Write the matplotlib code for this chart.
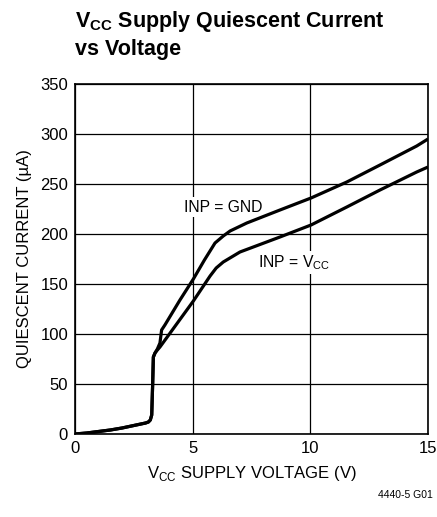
import matplotlib
matplotlib.use("Agg")
import matplotlib.pyplot as plt
from matplotlib import font_manager

names = {f.name for f in font_manager.fontManager.ttflist}
narrow = "Liberation Sans Narrow" if "Liberation Sans Narrow" in names else "Liberation Sans"

# INP = GND curve
v_gnd = [0, 0.5, 1, 1.5, 2, 2.5, 3.0, 3.12, 3.2, 3.26, 3.3, 3.33, 3.4, 3.5, 3.61, 3.68, 3.82, 4.46, 5.03, 5.5, 5.95, 6.3, 6.59, 7.3, 8.71, 10.03, 11.55, 12.96, 14.52, 15]
i_gnd = [0, 1, 2.5, 4, 6, 8.5, 11, 12, 14, 19, 50, 77, 81, 85, 91, 104, 109, 134, 155, 174, 191, 198, 203, 211, 224, 236, 252, 269, 288, 295]
# INP = VCC curve
v_vcc = [0, 0.5, 1, 1.5, 2, 2.5, 3.0, 3.12, 3.2, 3.26, 3.3, 3.33, 3.4, 3.5, 3.61, 5.03, 5.74, 6.0, 6.3, 7.01, 8.71, 10.03, 11.55, 12.96, 14.52, 15]
i_vcc = [0, 1, 2.5, 4, 6, 8.5, 11, 12, 14, 19, 50, 77, 81, 84, 87, 133, 158, 166, 172, 182, 197, 209, 227, 244, 262, 267]

xticks = [0, 5, 10, 15]
yticks = [0, 50, 100, 150, 200, 250, 300, 350]

plt.rcParams['font.family'] = [narrow, 'DejaVu Sans']

fig = plt.figure(figsize=(4.37, 5.17), dpi=100)
ax = fig.add_axes([75/437, 1 - 434/517, 353/437, 350/517])
ax.plot(v_gnd, i_gnd, color='black', lw=2.3, solid_capstyle='butt', solid_joinstyle='round', zorder=3)
ax.plot(v_vcc, i_vcc, color='black', lw=2.3, solid_capstyle='butt', solid_joinstyle='round', zorder=3)
ax.set_xlim(0, 15)
ax.set_ylim(0, 350)
ax.set_xticks(xticks)
ax.set_yticks(yticks)
ax.tick_params(length=0, labelsize=12, pad=5)
ax.grid(True, color='black', lw=0.9)
ax.set_axisbelow(True)
for s in ax.spines.values():
    s.set_linewidth(1.2)

ax.set_xlabel(r'V$_{\mathregular{CC}}$ SUPPLY VOLTAGE (V)', fontsize=12, labelpad=6)
ax.set_ylabel('QUIESCENT CURRENT (µA)', fontsize=12, labelpad=6)

box = dict(facecolor='white', edgecolor='none', pad=1.5)
ax.text(6.28, 222.5, 'INP = GND', fontsize=11.3, ha='center', va='baseline', bbox=box, zorder=2)
ax.text(9.31, 166.5, r'INP = V$_{\mathregular{CC}}$', fontsize=11.3, ha='center', va='baseline', bbox=box, zorder=2)

fig.text(75/437, 1 - 22/517, r'V$_{\mathregular{CC}}$ Supply Quiescent Current', fontsize=15.5, fontweight='bold', ha='left', va='center')
fig.text(75/437, 1 - 50/517, 'vs Voltage', fontsize=15.5, fontweight='bold', ha='left', va='center')
fig.text(433/437, 1 - 495/517, '4440-5 G01', fontsize=7.5, ha='right', va='center')

fig.savefig('out.png', dpi=100)
